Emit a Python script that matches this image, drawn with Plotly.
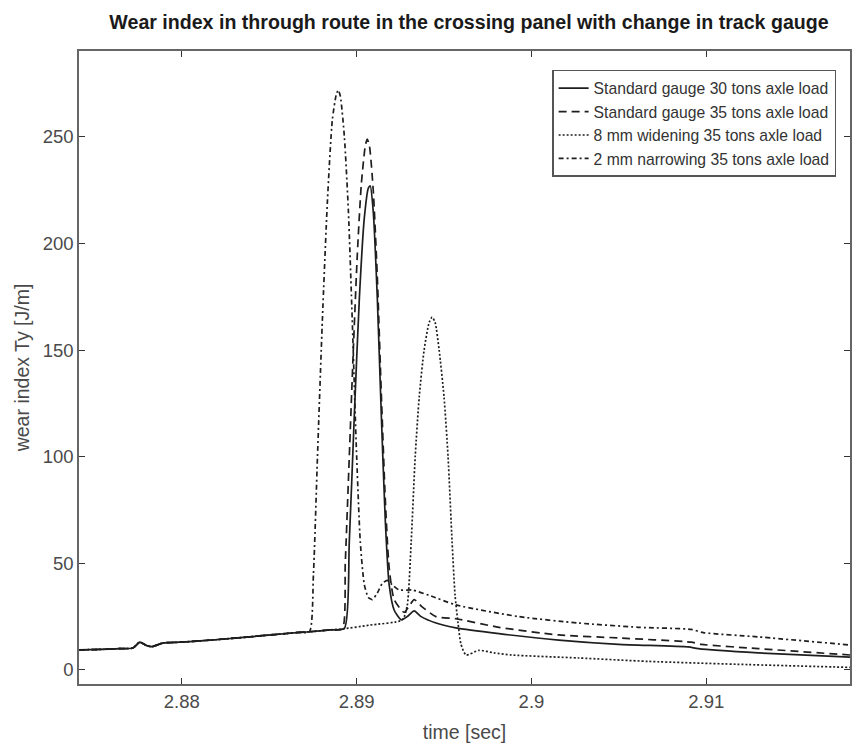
import plotly.graph_objects as go

# ---- data ----
# shared pre-crossing baseline (all four runs coincide here)
base_t = [2.87412, 2.87532, 2.87646, 2.87720, 2.87760, 2.87794, 2.87828, 2.87891,
          2.87988, 2.88102, 2.88245, 2.88388, 2.88530, 2.88673, 2.88730]
base_v = [9.4, 9.6, 10.0, 10.3, 13.0, 11.6, 10.9, 12.6,
          13.0, 13.6, 14.5, 15.5, 16.6, 17.6, 17.9]

# Standard gauge 30 tons axle load (solid)
std30_t = [2.88850, 2.88930, 2.88958, 2.88987, 2.89016, 2.89044, 2.89067, 2.89078,
           2.89095, 2.89118, 2.89141, 2.89164, 2.89186, 2.89215, 2.89255, 2.89289,
           2.89329, 2.89369, 2.89454, 2.89568, 2.89814, 2.90156, 2.90498, 2.90897,
           2.90954, 2.91297, 2.91822]
std30_v = [18.8, 19.5, 60, 120, 175, 212, 226, 227,
           215, 175, 120, 70, 40, 28, 23.5, 25,
           27.7, 25, 22, 19.7, 17, 14, 12, 10.8,
           10, 8, 6]

# Standard gauge 35 tons axle load (dashed)
std35_t = [2.88850, 2.88918, 2.88935, 2.88958, 2.88981, 2.89004, 2.89027, 2.89050,
           2.89061, 2.89073, 2.89095, 2.89118, 2.89141, 2.89164, 2.89186, 2.89215,
           2.89272, 2.89301, 2.89329, 2.89369, 2.89454, 2.89568, 2.89814, 2.90156,
           2.90498, 2.90914, 2.90972, 2.91297, 2.91822]
std35_v = [18.8, 19.2, 50, 100, 150, 195, 228, 246,
           249, 246, 225, 185, 130, 80, 48, 33,
           27, 30, 33, 30, 25, 24, 20, 16.4,
           15, 13, 12, 10, 7]

# 8 mm widening 35 tons axle load (dotted)
wid8_t = [2.88850, 2.88918, 2.89072, 2.89261, 2.89289, 2.89312, 2.89335, 2.89358,
          2.89386, 2.89415, 2.89432, 2.89449, 2.89472, 2.89500, 2.89523, 2.89546,
          2.89563, 2.89580, 2.89597, 2.89626, 2.89700, 2.89785, 2.89888, 2.90270,
          2.90669, 2.91239, 2.91822]
wid8_v = [18.8, 19.2, 21, 23.5, 30, 60, 100, 128,
          150, 163, 165.5, 163, 150, 128, 100, 60,
          35, 22, 12, 7, 9.2, 8, 7, 5.6,
          4, 2.5, 1.2]

# 2 mm narrowing 35 tons axle load (dash-dot)
nar2_t = [2.88753, 2.88776, 2.88804, 2.88833, 2.88861, 2.88884, 2.88895, 2.88907,
          2.88930, 2.88953, 2.88975, 2.88998, 2.89021, 2.89044, 2.89067, 2.89089,
          2.89118, 2.89146, 2.89175, 2.89203, 2.89243, 2.89318, 2.89414, 2.89568,
          2.89928, 2.90270, 2.90612, 2.90914, 2.90983, 2.91297, 2.91822]
nar2_v = [45, 100, 164, 220, 258, 270, 272, 269,
          250, 215, 164, 105, 60, 40, 34, 33,
          36, 40.5, 42, 40, 37.5, 37.5, 35, 30.5,
          25, 22, 20, 19, 17.5, 15.5, 11.7]

series_names = ["Standard gauge 30 tons axle load",
                "Standard gauge 35 tons axle load",
                "8 mm widening 35 tons axle load",
                "2 mm narrowing 35 tons axle load"]

x_ticks = [2.88, 2.89, 2.9, 2.91]
x_tick_text = ["2.88", "2.89", "2.9", "2.91"]
y_ticks = [0, 50, 100, 150, 200, 250]

# ---- figure ----
line_col = "#1e1e1e"
dashes = ["solid", "8px,5px", "2px,2px", "5px,3px,2px,3px"]
tails = [(std30_t, std30_v), (std35_t, std35_v), (wid8_t, wid8_v), (nar2_t, nar2_v)]

fig = go.Figure()
for name, dash, (tt, vv) in zip(series_names, dashes, tails):
    fig.add_trace(go.Scatter(
        x=base_t + tt, y=base_v + vv, mode="lines", name=name,
        line=dict(color=line_col, width=1.7, dash=dash, shape="spline", smoothing=0.6),
    ))

fam = "Liberation Sans, Arial, sans-serif"
tick_font = dict(family=fam, size=18.5, color="#4a4a4a")
title_font = dict(family=fam, size=19.5, color="#4a4a4a")
fig.update_layout(
    width=852, height=747,
    margin=dict(l=79, r=0, t=51, b=63),
    paper_bgcolor="white", plot_bgcolor="white",
    title=dict(text="<b>Wear index in through route in the crossing panel with change in track gauge</b>",
               x=(470 - 79) / 773, xref="paper", xanchor="center",
               y=1 - 22 / 747, yref="container", yanchor="middle",
               font=dict(family=fam, size=19.6, color="#1a1a1a")),
    showlegend=True,
    legend=dict(x=0.982, y=0.970, xanchor="right", yanchor="top",
                bgcolor="white", bordercolor="#555555", borderwidth=1.5,
                font=dict(family=fam, size=15.7, color="#333333")),
    font=tick_font,
)
fig.update_xaxes(
    range=[2.87412, 2.91822], tickvals=x_ticks, ticktext=x_tick_text,
    showline=True, linecolor="#666666", linewidth=1.5, mirror="ticks",
    ticks="inside", ticklen=6, tickcolor="#333333", tickwidth=1.3,
    showgrid=False, zeroline=False, tickfont=tick_font,
    title=dict(text="time [sec]", font=title_font, standoff=14),
)
fig.update_yaxes(
    range=[-6.6, 290.3], tickvals=y_ticks,
    showline=True, linecolor="#666666", linewidth=1.5, mirror="ticks",
    ticks="inside", ticklen=6, tickcolor="#333333", tickwidth=1.3,
    showgrid=False, zeroline=False, tickfont=tick_font,
    title=dict(text="wear index Ty [J/m]", font=title_font, standoff=8),
)

fig.write_html("out.html")
